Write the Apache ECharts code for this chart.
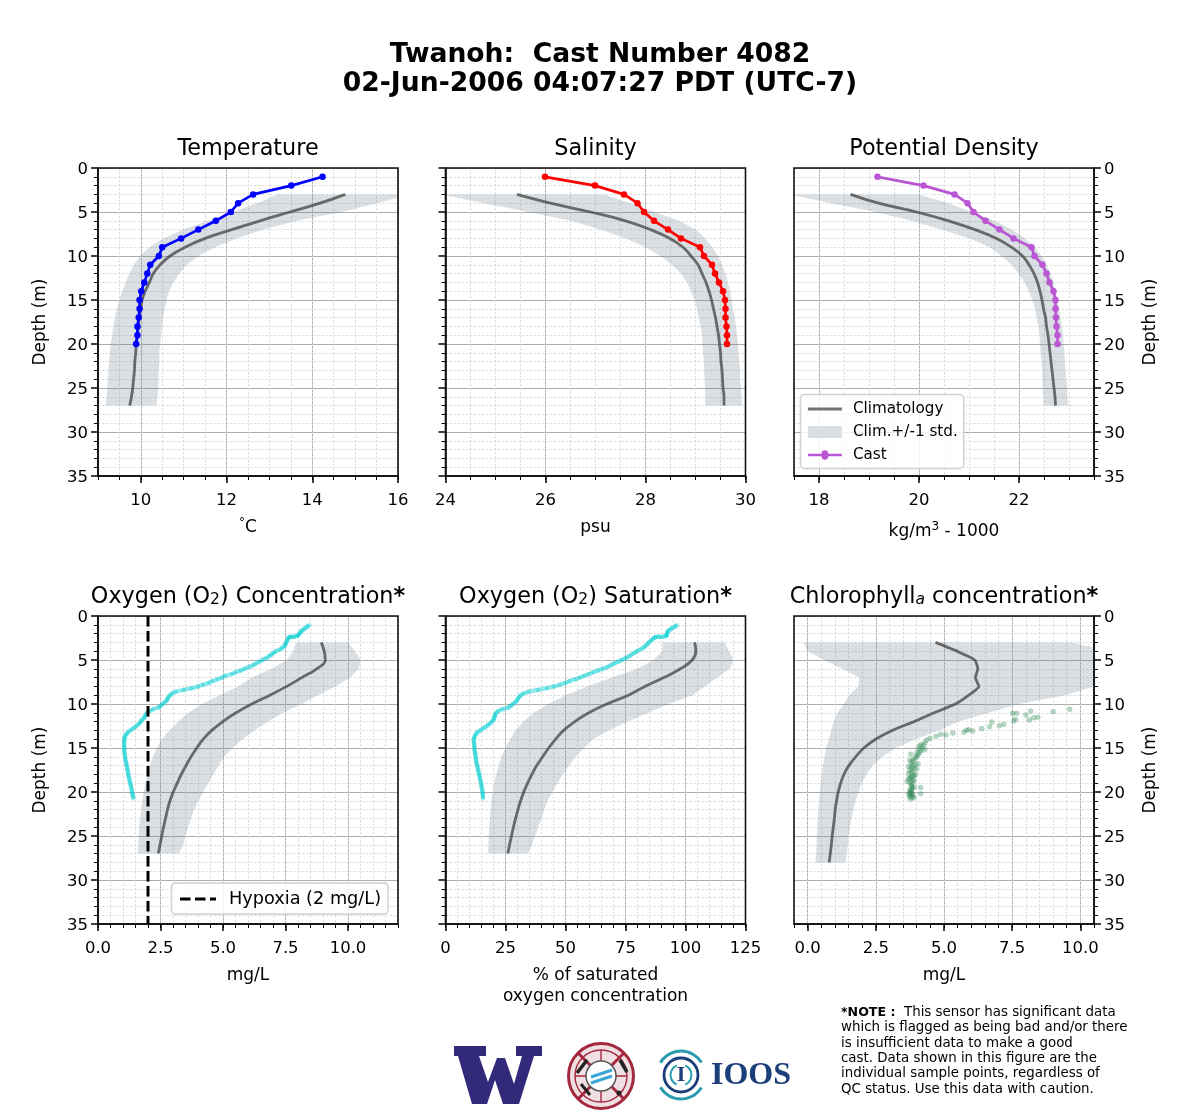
<!DOCTYPE html>
<html><head><meta charset="utf-8">
<style>html,body{margin:0;padding:0;background:#fff}#c{width:1200px;height:1120px}</style>
<script src="https://cdn.jsdelivr.net/npm/echarts@6/dist/echarts.min.js"></script>
</head><body><div id="c"></div>
<script>
// ---------- data ----------
const castDepth20 = [1,2,3,4,5,6,7,8,9,10,11,12,13,14,15,16,17,18,19,20];
const climDepth = [3,4,5,6,7,8,9,10,11,12,13,14,15,16,17,18,19,20,21,22,23,24,25,26,27];
const climDepthChl = [3,4,5,6,7,8,9,10,11,12,13,14,15,16,17,18,19,20,21,22,23,24,25,26,27,28];

const tempCast = [14.24,13.51,12.62,12.27,12.1,11.75,11.34,10.94,10.5,10.42,10.22,10.15,10.08,10.01,9.97,9.97,9.95,9.92,9.92,9.89];
const tempClim = [14.77,14.18,13.48,12.78,12.12,11.5,11.03,10.68,10.45,10.29,10.2,10.1,10.03,10,9.96,9.94,9.92,9.89,9.88,9.86,9.85,9.83,9.81,9.78,9.74];
const tempLow = [13.2,12.7,12.16,11.57,10.99,10.52,10.2,9.98,9.84,9.73,9.65,9.57,9.5,9.44,9.4,9.36,9.33,9.3,9.27,9.26,9.24,9.23,9.22,9.2,9.18];
const tempHigh = [16.3,15.5,14.69,13.64,12.86,12.23,11.73,11.34,11.07,10.9,10.76,10.66,10.6,10.56,10.52,10.49,10.47,10.45,10.43,10.43,10.42,10.41,10.41,10.39,10.36];

const salCast = [25.99,26.99,27.57,27.84,27.97,28.17,28.45,28.71,29.09,29.17,29.33,29.39,29.47,29.55,29.59,29.6,29.6,29.62,29.63,29.63];
const salClim = [25.43,26.1,26.9,27.6,28.1,28.49,28.75,28.91,29.05,29.13,29.21,29.27,29.32,29.36,29.4,29.43,29.46,29.48,29.5,29.51,29.53,29.54,29.55,29.57,29.57];
const salLow = [23.9,24.77,25.67,26.5,27.1,27.6,28,28.3,28.53,28.71,28.83,28.91,28.98,29.03,29.07,29.1,29.13,29.14,29.15,29.17,29.17,29.18,29.19,29.19,29.2];
const salHigh = [27.17,27.7,28.17,28.67,29,29.2,29.33,29.45,29.53,29.6,29.65,29.69,29.72,29.75,29.78,29.81,29.83,29.85,29.86,29.87,29.89,29.89,29.91,29.92,29.93];

const densCast = [19.17,20.09,20.71,20.97,21.09,21.33,21.61,21.89,22.25,22.31,22.47,22.55,22.61,22.69,22.73,22.73,22.74,22.75,22.77,22.77];
const densClim = [18.63,19.19,19.95,20.59,21.12,21.55,21.85,22.07,22.2,22.3,22.37,22.42,22.46,22.49,22.53,22.55,22.58,22.6,22.62,22.64,22.66,22.68,22.7,22.72,22.73];
const densLow = [17.4,18.25,19.12,19.85,20.45,21.02,21.42,21.65,21.85,21.99,22.11,22.2,22.27,22.32,22.35,22.39,22.41,22.42,22.43,22.45,22.46,22.47,22.47,22.49,22.49];
const densHigh = [19.99,20.59,21.05,21.52,21.85,22.12,22.32,22.45,22.55,22.63,22.69,22.73,22.77,22.81,22.83,22.86,22.88,22.89,22.91,22.92,22.93,22.95,22.96,22.97,22.98];

const o2Clim = [8.93,9.05,9.09,8.75,8.15,7.55,6.88,6.15,5.52,4.99,4.55,4.21,3.95,3.72,3.52,3.33,3.17,3.01,2.88,2.78,2.7,2.62,2.55,2.48,2.41];
const o2Low = [7.92,7.81,7.55,6.95,6.15,5.6,4.85,4.17,3.61,3.21,2.85,2.55,2.35,2.2,2.08,1.98,1.9,1.83,1.77,1.72,1.68,1.65,1.63,1.61,1.6];
const o2High = [10.01,10.28,10.51,10.43,10.08,9.5,8.8,8.15,7.4,6.8,6.25,5.78,5.38,5.05,4.81,4.61,4.41,4.21,4.01,3.85,3.72,3.6,3.5,3.4,3.25];

const satClim = [103.8,104.3,102.8,97.9,91,83.1,76.2,67.2,59.7,53.9,49.2,45.9,43,40.5,38,36,34.2,32.6,31.3,30.2,29.2,28.3,27.5,26.7,26];
const satLow = [90.6,90.3,86.8,79.9,69.4,59,50,43,36.8,32.4,29.2,26.8,25,23.3,22.2,21.1,20.3,19.7,19.2,18.8,18.5,18.2,18.1,17.9,17.8];
const satHigh = [116.3,118.2,119.9,118.5,113.2,108,103,93,84.5,76,67.9,61.5,57.7,54.2,51.5,48.8,46.7,44.5,42.6,41.2,39.9,38.6,37.3,36,34.4];

const chlClim = [4.69,5.48,6.13,6.24,6.15,6.28,5.91,5.42,4.63,3.9,3.1,2.49,2.06,1.76,1.51,1.33,1.21,1.12,1.06,1.01,0.98,0.94,0.9,0.87,0.83,0.79];
const chlLow = [-0.15,-0.01,0.6,1.27,1.9,1.86,1.51,1.33,1.09,0.96,0.87,0.78,0.68,0.62,0.56,0.51,0.48,0.44,0.42,0.39,0.37,0.35,0.34,0.33,0.31,0.29];
const chlHigh = [9.69,11,11.8,12,11.4,10.49,9.45,7.74,6.64,5.54,4.81,3.96,3.22,2.74,2.39,2.16,1.98,1.86,1.76,1.68,1.61,1.56,1.51,1.47,1.43,1.39];

const sensorDepth = [1.05,1.2,1.35,1.5,1.65,1.8,1.95,2.1,2.2,2.3,2.35,2.4,2.35,2.4,2.45,2.6,2.8,3.0,3.2,3.4,3.6,3.8,4.0,4.2,4.4,4.6,4.8,5.0,5.2,5.4,5.6,5.8,6.0,6.2,6.4,6.6,6.8,7.0,7.2,7.4,7.6,7.8,8.0,8.2,8.4,8.6,8.8,9.0,9.2,9.4,9.6,9.8,10.0,10.2,10.4,10.6,10.8,11.0,11.2,11.4,11.6,11.8,12.0,12.2,12.4,12.6,12.8,13.0,13.2,13.4,13.6,13.8,14.0,14.25,14.5,14.75,15,15.25,15.5,15.75,16,16.25,16.5,16.75,17,17.25,17.5,17.75,18,18.25,18.5,18.75,19,19.25,19.5,19.75,20,20.25,20.5,20.75];
const o2Cast = [8.45,8.38,8.3,8.24,8.16,8.11,8.07,8.03,8.0,7.95,7.85,7.78,7.72,7.66,7.62,7.6,7.56,7.54,7.5,7.47,7.38,7.28,7.12,7.02,6.92,6.84,6.72,6.58,6.45,6.32,6.2,6.04,5.86,5.7,5.5,5.35,5.1,4.95,4.78,4.58,4.42,4.2,4.0,3.75,3.42,3.1,2.96,2.88,2.82,2.78,2.75,2.68,2.58,2.5,2.42,2.2,2.06,1.96,1.92,1.88,1.86,1.76,1.72,1.66,1.58,1.49,1.39,1.3,1.2,1.14,1.09,1.06,1.05,1.05,1.04,1.05,1.05,1.05,1.06,1.07,1.08,1.09,1.11,1.13,1.15,1.16,1.18,1.2,1.21,1.23,1.25,1.27,1.29,1.31,1.33,1.35,1.36,1.38,1.4,1.41];
const satCast = [96.5,95.7,94.5,93.8,92.9,92.5,92.3,92.2,92.1,92,90.8,89.6,88.6,87.6,87,86.4,85.6,84.7,84.1,83.3,82.6,81.2,79.7,78.6,77.4,76.3,75,73.4,71.9,70.2,68.8,67.4,65.5,63.5,61.5,59.7,57.8,56,54,51.7,50,47.6,45.2,42.2,38.5,34.6,32.5,31.4,30.6,30.2,29.8,29.1,28,27.4,26.3,23.6,22,21.1,20.7,20.5,20.3,20,19.4,18.6,17.7,16.7,15.5,14.5,13.3,12.7,12.3,12,11.8,11.8,11.9,12,12.1,12.1,12.3,12.4,12.5,12.7,12.8,13,13.2,13.4,13.6,13.8,14,14.2,14.4,14.6,14.8,15,15.1,15.3,15.4,15.5,15.6,15.7];

const chlCastValues = [9.61,9.0,8.18,8.0,7.52,7.66,8.44,8.29,8.13,7.62,7.56,7.19,7.03,6.75,6.67,6.38,6.05,5.91,5.82,5.73,5.32,5.07,4.88,4.71,4.49,4.36,4.3,4.15,4.25,4.1,4.2,4.05,4.3,4.15,4.1,4.0,3.78,4.05,4.0,3.95,3.9,3.75,3.85,3.8,4.05,3.95,3.85,3.7,3.8,3.9,4.0,3.75,3.85,3.8,3.7,3.95,3.9,3.85,3.8,3.75,3.7,3.85,3.9,3.65,3.75,3.85,3.8,3.8,4.14,3.9,3.85,3.8,3.75,3.8,3.75,3.8,3.75,3.85,4.14,3.71,3.8,3.85,3.75,3.9,3.78];
const chlCastDepths = [10.6,10.87,10.8,11.25,11.06,11.06,11.5,11.55,11.82,11.74,11.93,12.31,12.46,12.05,12.58,12.77,13.07,12.92,12.99,13.22,13.3,13.52,13.45,13.67,13.9,14.1,14.4,14.6,14.7,14.8,15.0,15.1,15.2,15.3,15.5,15.6,15.7,15.8,16.0,16.1,16.3,16.4,16.5,16.7,16.8,16.9,17.0,17.1,17.2,17.3,17.4,17.5,17.6,17.8,17.9,18.0,18.1,18.2,18.3,18.45,18.5,18.6,18.7,18.8,18.9,19.0,19.2,19.3,19.5,19.45,19.55,19.7,19.8,19.9,20.05,20.1,20.2,20.25,20.2,20.35,20.4,20.5,20.6,20.65,20.8];

const hypoxiaX = [2,2];
const hypoxiaY = [0,35];

// tick labels
const tempTicks = [10,12,14,16];
const salTicks = [24,26,28,30];
const densTicks = [18,20,22];
const o2Ticks = [0,2.5,5,7.5,10];
const satTicks = [0,25,50,75,100,125];
const chlTicks = [0,2.5,5,7.5,10];

// ---------- layout and styles ----------
const FF = 'DejaVu Sans';
const BAND = 'rgba(119,136,153,0.27)';
const CLIM = 'rgba(60,60,60,0.72)';
const rowTop = [168, 616];
const colLeft = [98, 445.5, 794];
const W = 300, H = 308;

const panels = [
 {col:0,row:0,min:9,max:16,minor:0.5,ticks:tempTicks,title:'Temperature',name:'{sup|°}C',nameGap:41,fmt:v=>String(v)},
 {col:1,row:0,min:24,max:30,minor:0.5,ticks:salTicks,title:'Salinity',name:'psu',nameGap:41,fmt:v=>String(v)},
 {col:2,row:0,min:17.5,max:23.5,minor:0.5,ticks:densTicks,title:'Potential Density',name:'kg/m{sup|3} - 1000',nameGap:45,fmt:v=>String(v)},
 {col:0,row:1,min:0,max:12,minor:0.5,ticks:o2Ticks,title:'Oxygen (O{sub|2}) Concentration{b|*}',name:'mg/L',nameGap:41,fmt:v=>v.toFixed(1)},
 {col:1,row:1,min:0,max:125,minor:5,ticks:satTicks,title:'Oxygen (O{sub|2}) Saturation{b|*}',name:'% of saturated\noxygen concentration',nameGap:41,fmt:v=>String(v)},
 {col:2,row:1,min:-0.5,max:10.5,minor:0.5,ticks:chlTicks,title:'Chlorophyll{subi|a} concentration{b|*}',name:'mg/L',nameGap:41,fmt:v=>v.toFixed(1)}
];

const grids=[], xAxes=[], yAxes=[], graphics=[], series=[];
const richTitle = {
  sub:{fontSize:15.5,fontFamily:FF,verticalAlign:'bottom',padding:[6,0,0,0],color:'#000'},
  subi:{fontSize:15.5,fontFamily:FF,fontStyle:'italic',verticalAlign:'bottom',padding:[6,0,0,0],color:'#000'},
  b:{fontSize:22.3,fontFamily:FF,fontWeight:'bold',color:'#000'}
};
panels.forEach((p,i)=>{
  const left = colLeft[p.col], top = rowTop[p.row];
  grids.push({left,top,width:W,height:H,show:false,containLabel:false});
  xAxes.push({type:'value',gridIndex:i,min:p.min,max:p.max,position:'bottom',
    name:p.name,nameLocation:'middle',nameGap:p.nameGap,
    nameTextStyle:{fontFamily:FF,fontSize:17,color:'#000',lineHeight:21,
      rich:{sup:{fontSize:12,fontFamily:FF,verticalAlign:'top',color:'#000',padding:[0,0,8,0]}}},
    axisLine:{show:true,onZero:false,lineStyle:{color:'#000',width:1.5}},
    axisTick:{show:true,length:7,customValues:p.ticks,lineStyle:{color:'#000',width:1.5}},
    axisLabel:{show:true,customValues:p.ticks,margin:16,fontFamily:FF,fontSize:16.5,color:'#000',formatter:p.fmt,hideOverlap:false},
    splitLine:{show:true,lineStyle:{color:'#ababab',width:1}},
    minorTick:{show:false},minorSplitLine:{show:false}});
  xAxes.push({type:'value',gridIndex:i,min:p.min,max:p.max,interval:p.minor,position:'bottom',z:0,
    axisLine:{show:false,onZero:false},
    axisTick:{show:true,length:4,lineStyle:{color:'#000',width:1}},
    axisLabel:{show:false},
    splitLine:{show:true,lineStyle:{color:'#d6d6d6',width:0.8,type:[2.5,1.5]}}});
  const right = p.col===2;
  yAxes.push({type:'value',gridIndex:i,min:0,max:35,interval:5,inverse:true,position:right?'right':'left',
    name:p.col===1?'':'Depth (m)',nameLocation:'middle',nameGap:right?48:49,nameRotate:90,
    nameTextStyle:{fontFamily:FF,fontSize:17,color:'#000'},
    axisLine:{show:true,onZero:false,lineStyle:{color:'#000',width:1.5}},
    axisTick:{show:true,length:7,lineStyle:{color:'#000',width:1.5}},
    axisLabel:{show:p.col!==1,margin:10,color:'#000',showMinLabel:true,showMaxLabel:true,
      formatter:v=>'{a|'+v+'}',
      rich:{a:{fontFamily:FF,fontSize:16.5,color:'#000',padding:[4,0,0,0]}}},
    splitLine:{show:true,lineStyle:{color:'#ababab',width:1}},
    minorTick:{show:true,splitNumber:5,length:4,lineStyle:{color:'#000',width:1}},
    minorSplitLine:{show:true,lineStyle:{color:'#d6d6d6',width:0.8,type:[2.5,1.5]}}});
  graphics.push({type:'text',x:left+W/2,y:top-18.8,silent:true,z:50,style:{text:p.title,fontFamily:FF,fontSize:22.3,fill:'#000',align:'center',verticalAlign:'middle',rich:richTitle}});
  graphics.push({type:'rect',shape:{x:left,y:top,width:W,height:H},silent:true,z:40,style:{fill:null,stroke:'#111',lineWidth:1.6}});
});
const xi = i => i*2;

function bandSeries(name, i, depth, low, high){
  return {type:'custom',name,xAxisIndex:xi(i),yAxisIndex:i,clip:true,z:2,silent:true,
    itemStyle:{color:'#d9dee2'},
    encode:{x:[0,2],y:1},
    data:depth.map((d,k)=>[low[k],d,high[k]]),
    renderItem:(params,api)=>{
      if(params.dataIndex!==0) return null;
      const pts=[];
      depth.forEach((d,k)=>pts.push(api.coord([low[k],d])));
      for(let k=depth.length-1;k>=0;k--) pts.push(api.coord([high[k],depth[k]]));
      return {type:'polygon',shape:{points:pts},style:{fill:BAND},silent:true};
    }};
}
function climSeries(name,i,depth,vals,smooth){
  return {type:'line',name,xAxisIndex:xi(i),yAxisIndex:i,symbol:'none',z:3,silent:true,smooth,
    lineStyle:{color:CLIM,width:2.8},itemStyle:{color:CLIM},
    data:vals.map((v,k)=>[v,depth[k]])};
}
function castSeries(name,i,vals,color){
  return {type:'line',name,xAxisIndex:xi(i),yAxisIndex:i,symbol:'circle',symbolSize:6.5,z:4,silent:true,
    lineStyle:{color,width:2.7},itemStyle:{color},
    data:vals.map((v,k)=>[v,castDepth20[k]])};
}
function sensorTrace(name,i,vals){
  return {type:'line',name,xAxisIndex:xi(i),yAxisIndex:i,symbol:'none',z:4,silent:true,
    lineStyle:{color:'#00ced1',width:4.2,opacity:0.42},
    data:vals.map((v,k)=>[v,sensorDepth[k]])};
}
function dotSeries(name,i,vals,depth,color,size,op){
  return {type:'scatter',name,xAxisIndex:xi(i),yAxisIndex:i,symbolSize:size,z:4,silent:true,
    itemStyle:{color,opacity:op},
    data:vals.map((v,k)=>[v,depth[k]])};
}
series.push(
  bandSeries('Temp band',0,climDepth,tempLow,tempHigh),
  climSeries('Temp clim',0,climDepth,tempClim,0.45),
  castSeries('Temp cast',0,tempCast,'#0000ff'),
  bandSeries('Sal band',1,climDepth,salLow,salHigh),
  climSeries('Sal clim',1,climDepth,salClim,0.45),
  castSeries('Sal cast',1,salCast,'#ff0000'),
  bandSeries('Clim.+/-1 std.',2,climDepth,densLow,densHigh),
  climSeries('Climatology',2,climDepth,densClim,0.45),
  castSeries('Cast',2,densCast,'#ba55d3'),
  bandSeries('O2 band',3,climDepth,o2Low,o2High),
  climSeries('O2 clim',3,climDepth,o2Clim,0.45),
  sensorTrace('O2 trace',3,o2Cast),
  dotSeries('O2 cast',3,o2Cast,sensorDepth,'#00ced1',4.5,0.35),
  {type:'line',name:'Hypoxia (2 mg/L)',xAxisIndex:xi(3),yAxisIndex:3,symbol:'none',z:5,silent:true,
    lineStyle:{color:'#000',width:3,type:[10.5,4.5]},itemStyle:{color:'#000'},
    data:hypoxiaX.map((v,k)=>[v,hypoxiaY[k]])},
  bandSeries('Sat band',4,climDepth,satLow,satHigh),
  climSeries('Sat clim',4,climDepth,satClim,0.45),
  sensorTrace('Sat trace',4,satCast),
  dotSeries('Sat cast',4,satCast,sensorDepth,'#00ced1',4.5,0.35),
  bandSeries('Chl band',5,climDepthChl,chlLow,chlHigh),
  climSeries('Chl clim',5,climDepthChl,chlClim,0.15),
  dotSeries('Chl cast',5,chlCastValues,chlCastDepths,'#2e8b57',5.5,0.36)
);

// ---------- note ----------
const noteLines = ['{b|*NOTE :}  This sensor has significant data','which is flagged as being bad and/or there','is insufficient data to make a good','cast. Data shown in this figure are the','individual sample points, regardless of','QC status. Use this data with caution.'];
noteLines.forEach((t,k)=>graphics.push({type:'text',x:841,y:1012.5+k*15.35,silent:true,z:50,
  style:{text:t,fontFamily:FF,fontSize:13.4,fill:'#000',align:'left',verticalAlign:'middle',
    rich:{b:{fontFamily:FF,fontSize:12.6,fontWeight:'bold',color:'#000'}}}}));

// ---------- logos ----------
const logoW = [[454,1046],[486,1046],[486,1056],[479,1056],[488,1082],[497,1058],[505,1058],[514,1084],[522,1056],[516,1056],[516,1046],[542,1046],[542,1056],[534,1056],[519,1104],[503,1104],[495,1080],[487,1104],[472,1104],[458,1056],[454,1056]];
graphics.push({type:'polygon',shape:{points:logoW},silent:true,z:50,style:{fill:'#32297b'}});
const crimson='#a3283e';
graphics.push(
 {type:'circle',shape:{cx:601,cy:1076,r:32.5},silent:true,z:50,style:{fill:'#f1e0e3',stroke:crimson,lineWidth:3}},
 {type:'line',shape:{x1:578,y1:1053,x2:624,y2:1099},silent:true,z:50,style:{stroke:crimson,lineWidth:3}},
 {type:'line',shape:{x1:624,y1:1053,x2:578,y2:1099},silent:true,z:50,style:{stroke:crimson,lineWidth:3}},
 {type:'circle',shape:{cx:601,cy:1076,r:26},silent:true,z:50,style:{fill:null,stroke:crimson,lineWidth:1.4}},
 {type:'line',shape:{x1:575,y1:1076,x2:627,y2:1076},silent:true,z:50,style:{stroke:crimson,lineWidth:1.4}},
 {type:'line',shape:{x1:601,y1:1050,x2:601,y2:1102},silent:true,z:50,style:{stroke:crimson,lineWidth:1.4}},
 {type:'line',shape:{x1:577,y1:1073,x2:587,y2:1060},silent:true,z:50,style:{stroke:'#222',lineWidth:3.5}},
 {type:'line',shape:{x1:620,y1:1060,x2:627,y2:1072},silent:true,z:50,style:{stroke:'#222',lineWidth:3.5}},
 {type:'line',shape:{x1:581,y1:1084,x2:590,y2:1095},silent:true,z:50,style:{stroke:'#222',lineWidth:3}},
 {type:'circle',shape:{cx:619,cy:1093,r:2.5},silent:true,z:50,style:{fill:'#222'}},
 {type:'circle',shape:{cx:601,cy:1076,r:15},silent:true,z:51,style:{fill:'#ffffff',stroke:'#555',lineWidth:1.5}},
 {type:'line',shape:{x1:591,y1:1077,x2:612,y2:1070},silent:true,z:52,style:{stroke:'#3ba7d6',lineWidth:3}},
 {type:'line',shape:{x1:591,y1:1083,x2:612,y2:1076},silent:true,z:52,style:{stroke:'#3ba7d6',lineWidth:3}}
);
const teal='#2b9cb0', navy='#1a3f7a';
graphics.push(
 {type:'arc',shape:{cx:681,cy:1075,r:24,startAngle:-2.6,endAngle:-0.55,clockwise:true},silent:true,z:50,style:{fill:null,stroke:teal,lineWidth:3}},
 {type:'arc',shape:{cx:681,cy:1075,r:24,startAngle:0.55,endAngle:2.6,clockwise:true},silent:true,z:50,style:{fill:null,stroke:teal,lineWidth:3}},
 {type:'circle',shape:{cx:681,cy:1075,r:17},silent:true,z:50,style:{fill:null,stroke:navy,lineWidth:2.8}},
 {type:'arc',shape:{cx:681,cy:1075,r:10.5,startAngle:2,endAngle:4.3,clockwise:true},silent:true,z:50,style:{fill:null,stroke:teal,lineWidth:2}},
 {type:'arc',shape:{cx:681,cy:1075,r:10.5,startAngle:-1.15,endAngle:1.15,clockwise:true},silent:true,z:50,style:{fill:null,stroke:teal,lineWidth:2}},
 {type:'text',x:681,y:1075,silent:true,z:50,style:{text:'I',fontFamily:'Liberation Serif',fontWeight:'bold',fontSize:22,fill:navy,align:'center',verticalAlign:'middle'}},
 {type:'text',x:711,y:1076,silent:true,z:50,style:{text:'IOOS',fontFamily:'Liberation Serif',fontWeight:'bold',fontSize:32,fill:navy,align:'left',verticalAlign:'middle'}}
);

// line with a small round marker, 34 x 12, used as the Cast legend key
const CAST_ICON = 'path://M17 0h0.01v0.01h-0.01zM17 12h0.01v0.01h-0.01zM0 4.7H13.6A3.4 3.4 0 0 1 20.4 4.7H34V7.3H20.4A3.4 3.4 0 0 1 13.6 7.3H0Z';

const chart = echarts.init(document.getElementById('c'),null,{renderer:'canvas'});
chart.setOption({
  animation:false,backgroundColor:'#fff',
  title:{text:'Twanoh:  Cast Number 4082\n02-Jun-2006 04:07:27 PDT (UTC-7)',left:'center',top:35,
    textStyle:{fontFamily:FF,fontSize:26.6,fontWeight:'bold',color:'#000',lineHeight:29.5}},
  grid:grids,xAxis:xAxes,yAxis:yAxes,series,
  graphic:{elements:graphics},
  legend:[
   {orient:'vertical',left:800.5,top:394.5,padding:[7,6,6,6],itemWidth:34,itemHeight:12,itemGap:8,z:30,selectedMode:false,
    backgroundColor:'rgba(255,255,255,0.8)',borderColor:'#d0d0d0',borderWidth:1.5,borderRadius:4,
    textStyle:{fontFamily:FF,fontSize:15.2,color:'#000',padding:[0,0,0,6]},
    data:[{name:'Climatology',itemStyle:{opacity:0},lineStyle:{width:2.8}},{name:'Clim.+/-1 std.',icon:'rect'},{name:'Cast',icon:CAST_ICON}]},
   {orient:'vertical',left:171.5,top:883,padding:[7,7,6,7],itemWidth:36,itemHeight:4,z:30,selectedMode:false,
    backgroundColor:'rgba(255,255,255,0.8)',borderColor:'#d0d0d0',borderWidth:1.5,borderRadius:4,
    textStyle:{fontFamily:FF,fontSize:17.7,color:'#000',padding:[0,0,0,8]},
    data:[{name:'Hypoxia (2 mg/L)',itemStyle:{opacity:0},lineStyle:{width:3}}]}
  ]
});
</script></body></html>
